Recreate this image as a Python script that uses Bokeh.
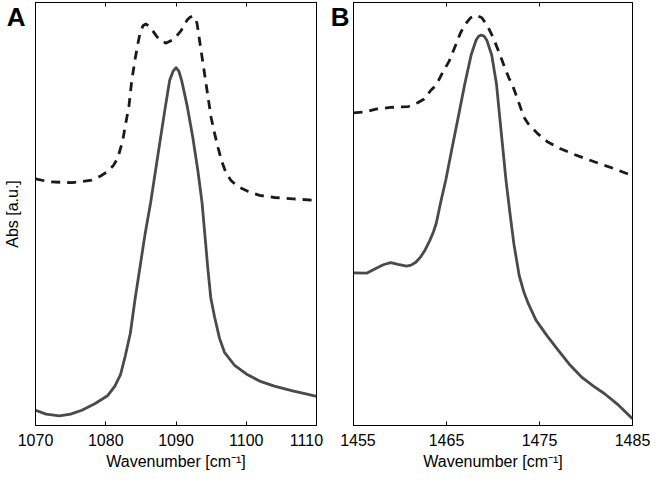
from bokeh.plotting import figure
from bokeh.layouts import row
from bokeh.models import Range1d, LinearAxis, FixedTicker, Grid
from bokeh.embed import file_html
from bokeh.resources import INLINE

# ---- Panel A data (wavenumber, absorbance a.u.) ----
a_ticks = [1070, 1080, 1090, 1100, 1110]
a_solid_x = [1070, 1071.5, 1073.4, 1075, 1076.6, 1078.5, 1080.3, 1081.3, 1082.1, 1082.8,
             1083.5, 1084.2, 1084.9, 1085.6, 1086.4, 1087.1, 1087.8, 1088.5, 1089.1, 1089.6,
             1090.0, 1090.4, 1090.8, 1091.6, 1092.4, 1093.1, 1093.7, 1094.1, 1094.5, 1094.95,
             1095.5, 1096.2, 1096.9, 1098.3, 1100, 1101.9, 1104, 1106.6, 1108.5, 1110]
a_solid_y = [0.036, 0.027, 0.023, 0.027, 0.036, 0.052, 0.071, 0.093, 0.120, 0.166,
             0.218, 0.302, 0.377, 0.453, 0.528, 0.604, 0.680, 0.755, 0.816, 0.838,
             0.846, 0.838, 0.816, 0.755, 0.680, 0.604, 0.528, 0.453, 0.377, 0.302,
             0.256, 0.206, 0.173, 0.143, 0.122, 0.105, 0.093, 0.082, 0.075, 0.069]
a_dash_x = [1070, 1072, 1075.2, 1078, 1079.3, 1080.3, 1081.1, 1081.7, 1082.1, 1082.4,
            1082.8, 1083.3, 1083.7, 1084.2, 1084.6, 1084.9, 1085.3, 1085.7, 1086.2, 1086.7,
            1087.2, 1087.7, 1088.6, 1089.7, 1090.7, 1091.2, 1091.6, 1092.0, 1092.4, 1092.8,
            1093.0, 1093.4, 1093.9, 1094.3, 1095.0, 1095.5, 1096.0, 1096.5, 1097.1, 1097.8,
            1098.7, 1100.3, 1101.9, 1104, 1106.6, 1110]
a_dash_y = [0.583, 0.576, 0.574, 0.580, 0.590, 0.601, 0.615, 0.632, 0.655, 0.672,
            0.710, 0.755, 0.815, 0.868, 0.905, 0.929, 0.945, 0.949, 0.944, 0.933,
            0.921, 0.911, 0.904, 0.913, 0.933, 0.947, 0.959, 0.965, 0.968, 0.960,
            0.950, 0.905, 0.850, 0.805, 0.728, 0.690, 0.656, 0.625, 0.598, 0.580,
            0.566, 0.553, 0.544, 0.539, 0.536, 0.532]

# ---- Panel B data ----
b_ticks = [1455, 1465, 1475, 1485]
b_solid_x = [1455, 1456.4, 1457.45, 1458.2, 1459.0, 1459.8, 1460.7, 1461.2, 1461.7, 1462.2,
             1462.7, 1463.2, 1463.6, 1463.9, 1464.4, 1464.93, 1465.61, 1466.29, 1466.97, 1467.65,
             1468.16, 1468.45, 1468.74, 1469.05, 1469.35, 1469.86, 1470.37, 1470.71, 1471.05, 1471.39,
             1471.80, 1472.24, 1472.82, 1473.3, 1473.8, 1474.62, 1475.82, 1476.9, 1478.2, 1479.6,
             1480.8, 1482.0, 1483.5, 1485]
b_solid_y = [0.361, 0.360, 0.372, 0.380, 0.385, 0.381, 0.377, 0.379, 0.386, 0.398,
             0.415, 0.437, 0.458, 0.478, 0.530, 0.581, 0.657, 0.732, 0.808, 0.876,
             0.910, 0.920, 0.923, 0.920, 0.910, 0.876, 0.808, 0.732, 0.657, 0.581,
             0.506, 0.430, 0.354, 0.317, 0.288, 0.249, 0.212, 0.181, 0.145, 0.113,
             0.093, 0.075, 0.048, 0.016]
b_dash_x = [1455, 1456.2, 1457.4, 1459, 1460.9, 1461.9, 1462.6, 1463.3, 1463.9, 1464.6,
            1465.3, 1466.0, 1466.5, 1467.0, 1467.6, 1468.2, 1468.8, 1469.4, 1470.0, 1470.6,
            1471.2, 1471.7, 1472.1, 1472.7, 1473.3, 1473.8, 1474.8, 1475.9, 1477.2, 1478.6,
            1480.3, 1482.0, 1483.3, 1485]
b_dash_y = [0.739, 0.741, 0.748, 0.752, 0.754, 0.763, 0.772, 0.792, 0.805, 0.835,
            0.862, 0.900, 0.928, 0.948, 0.964, 0.970, 0.964, 0.945, 0.918, 0.885,
            0.850, 0.822, 0.804, 0.768, 0.730, 0.713, 0.690, 0.670, 0.655, 0.642,
            0.628, 0.615, 0.605, 0.590]

x_label = "Wavenumber [cm\u207b\u00b9]"
y_label = "Abs [a.u.]"
NB = "\u00a0"
a_tick_overrides = {1110: "1110" + NB}
b_tick_overrides = {1455: NB * 2 + "1455"}
FONT = "Liberation Sans"
SOLID = "#4a4a4a"
DASH = "#1a1a1a"
LETTER_Y = 0.965


def make_panel(xr, ticks, overrides, sx, sy, dx, dy, width, bl, br, letter, show_ylabel):
    p = figure(width=width, height=472, x_range=Range1d(xr[0], xr[1]), y_range=Range1d(0, 1),
               output_backend="svg", toolbar_location=None,
               min_border_left=bl, min_border_right=br, min_border_top=2, min_border_bottom=0,
               background_fill_color="white", border_fill_color="white")
    p.outline_line_color = "black"
    p.outline_line_width = 1
    for g in p.select(type=Grid):
        g.visible = False

    xa = p.xaxis[0]
    xa.ticker = FixedTicker(ticks=ticks)
    xa.major_label_overrides = overrides
    xa.major_tick_in = 4
    xa.major_tick_out = 0
    xa.minor_tick_line_color = None
    xa.major_label_text_font = FONT
    xa.major_label_text_font_size = "16px"
    xa.major_label_text_color = "black"
    xa.major_label_standoff = 6
    xa.axis_label = x_label
    xa.axis_label_text_font = FONT
    xa.axis_label_text_font_size = "16px"
    xa.axis_label_text_font_style = "normal"
    xa.axis_label_text_color = "black"
    xa.axis_label_standoff = 1
    xa.axis_line_color = "black"

    top = LinearAxis(ticker=FixedTicker(ticks=ticks), major_tick_in=4, major_tick_out=0,
                     minor_tick_line_color=None, major_label_text_font_size="1px",
                     major_label_text_color=None, major_label_standoff=0,
                     axis_line_color="black")
    p.add_layout(top, "above")

    # left axis: carries the panel letter (as a tick label near the top) and the y label
    ya = p.yaxis[0]
    ya.ticker = FixedTicker(ticks=[LETTER_Y])
    ya.major_label_overrides = {LETTER_Y: letter}
    ya.major_label_orientation = "horizontal"
    ya.major_label_text_font = FONT
    ya.major_label_text_font_size = "26px"
    ya.major_label_text_font_style = "bold"
    ya.major_label_text_color = "black"
    ya.major_tick_line_color = None
    ya.major_tick_in = 0
    ya.major_tick_out = 0
    ya.minor_tick_line_color = None
    ya.axis_line_color = "black"
    if show_ylabel:
        ya.major_label_standoff = 10
        ya.axis_label = y_label
        ya.axis_label_text_font = FONT
        ya.axis_label_text_font_size = "16px"
        ya.axis_label_text_font_style = "normal"
        ya.axis_label_text_color = "black"
        ya.axis_label_standoff = -17
    else:
        ya.major_label_standoff = 4

    p.line(dx, dy, line_color=DASH, line_width=2.8, line_dash="9 7", line_join="round")
    p.line(sx, sy, line_color=SOLID, line_width=2.8, line_join="round")
    return p


pA = make_panel((1070, 1110), a_ticks, a_tick_overrides, a_solid_x, a_solid_y, a_dash_x, a_dash_y,
                327, 31, 11, "A", True)
pB = make_panel((1455, 1485), b_ticks, b_tick_overrides, b_solid_x, b_solid_y, b_dash_x, b_dash_y,
                324, 21, 19, "B", False)

layout = row(pA, pB)
open("out.html", "w").write(file_html(layout, INLINE))
